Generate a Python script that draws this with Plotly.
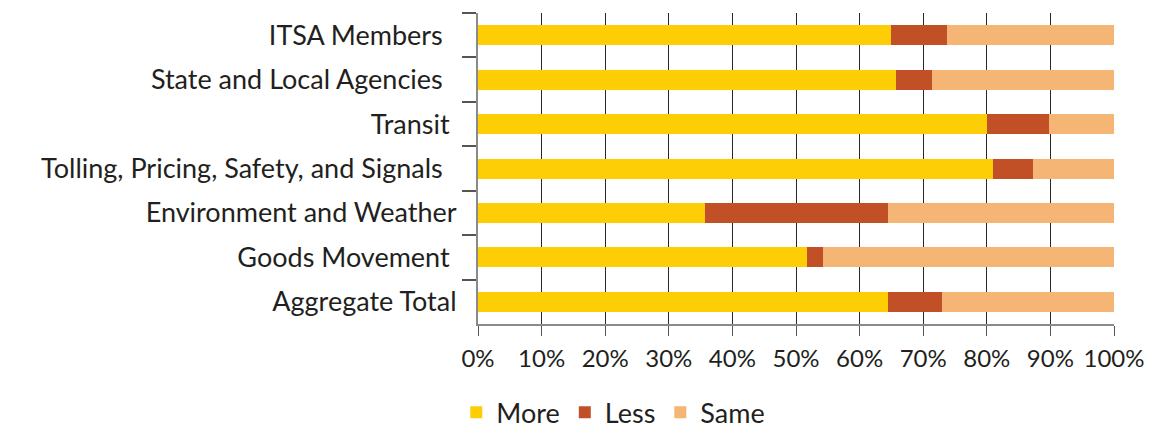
import plotly.graph_objects as go

categories = ["ITSA Members  ", "State and Local Agencies  ", "Transit ", "Tolling, Pricing, Safety, and Signals  ",
              "Environment and Weather", "Goods Movement ", "Aggregate Total"]
more = [65.0, 65.8, 80.1, 81.0, 35.7, 51.7, 64.5]
less = [8.8, 5.6, 9.7, 6.2, 28.8, 2.6, 8.4]
same = [26.2, 28.6, 10.2, 12.8, 35.5, 45.7, 27.1]
tick_vals = [0, 10, 20, 30, 40, 50, 60, 70, 80, 90, 100]
tick_text = ["0%", "10%", "20%", "30%", "40%", "50%", "60%", "70%", "80%", "90%", "100%"]

colors = {"More": "#FDCD06", "Less": "#C25027", "Same": "#F5B574"}
font = "Lato, 'Open Sans', sans-serif"

fig = go.Figure()
for name, vals in [("More", more), ("Less", less), ("Same", same)]:
    fig.add_trace(go.Bar(y=categories, x=vals, name=name, orientation="h",
                         marker=dict(color=colors[name], line=dict(width=0)),
                         width=0.45, hoverinfo="skip"))

fig.update_layout(
    barmode="stack",
    width=1170, height=430,
    margin=dict(l=478, r=56, t=13, b=106, autoexpand=False),
    paper_bgcolor="white", plot_bgcolor="white",
    font=dict(family=font, size=27, color="#231F20"),
    legend=dict(orientation="h", xref="container", yref="container",
                x=0.39, xanchor="left", y=0.04, yanchor="middle",
                font=dict(size=27, color="#231F20"), itemwidth=30, traceorder="normal",
                tracegroupgap=0),
    xaxis=dict(range=[0, 100], tickvals=tick_vals, ticktext=tick_text,
               tickfont=dict(size=24),
               showgrid=True, gridcolor="#2a2a2a", gridwidth=1,
               showline=True, linecolor="#8a8a8a", linewidth=2,
               ticks="outside", ticklen=10, tickcolor="#555", tickwidth=1,
               ticklabelstandoff=2, zeroline=False, fixedrange=True),
    yaxis=dict(autorange="reversed", showline=True, linecolor="#8a8a8a", linewidth=2,
               ticks="outside", ticklen=14, tickcolor="#555", tickwidth=2,
               tickson="boundaries", showgrid=False, ticklabelstandoff=14, fixedrange=True),
)

fig.write_html("out.html", config={"displayModeBar": False},
               post_script="document.body.style.margin='0';document.body.style.padding='0';")
